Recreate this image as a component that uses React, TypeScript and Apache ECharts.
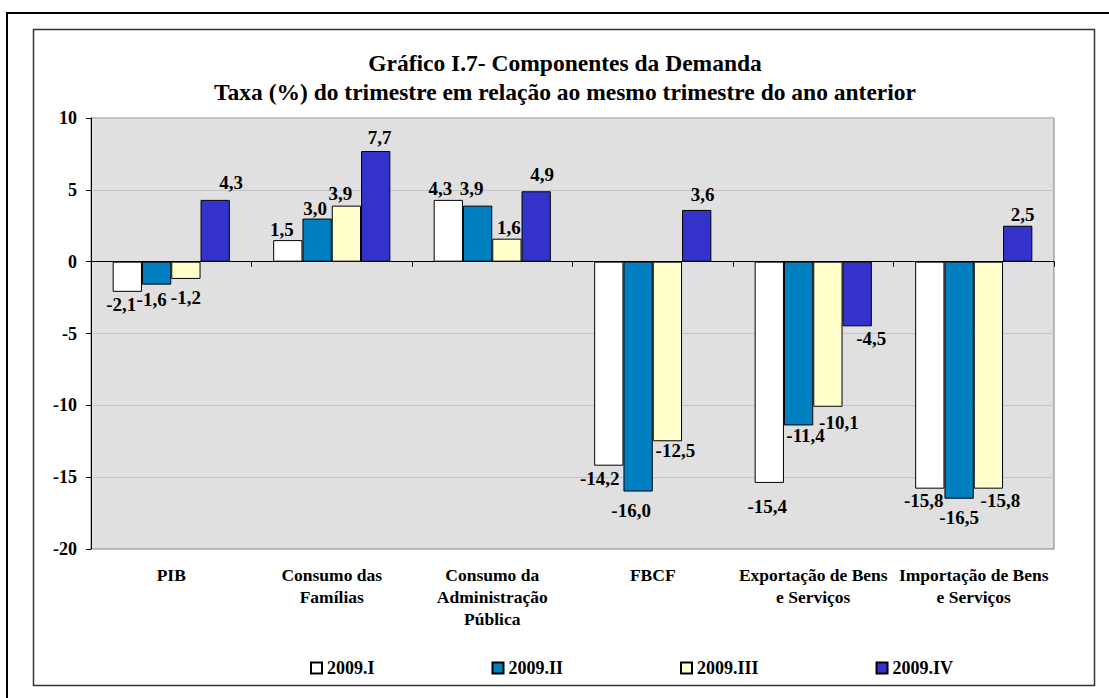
import React, { useEffect, useRef } from "react";
import * as echarts from "echarts";

const categories = [
  "PIB",
  "Consumo das\nFamílias",
  "Consumo da\nAdministração\nPública",
  "FBCF",
  "Exportação de Bens\ne Serviços",
  "Importação de Bens\ne Serviços",
];
const seriesNames = ["2009.I", "2009.II", "2009.III", "2009.IV"];
const q1 = [-2.1, 1.5, 4.3, -14.2, -15.4, -15.8];
const q2 = [-1.6, 3.0, 3.9, -16.0, -11.4, -16.5];
const q3 = [-1.2, 3.9, 1.6, -12.5, -10.1, -15.8];
const q4 = [4.3, 7.7, 4.9, 3.6, -4.5, 2.5];
const yTicks = [10, 5, 0, -5, -10, -15, -20];

// styling only: series colours and per-label nudges [dx, distance]
const seriesColors = ["#FFFFFF", "#0080C0", "#FFFFCC", "#3333CC"];
const labelNudges = [
  [[-6, 3.5], [-6, 1], [-8, 1.5], [-9, 3.5], [-2, 14.5], [-6, 2.5]],
  [[-5, 5.5], [-2, 0.5], [-6, 7.5], [-7, 9.5], [7, 0.5], [0, 9]],
  [[0, 9.5], [-6, 2.5], [2, 1.5], [8, 0], [11, 6], [12, 2.5]],
  [[16, 7.5], [4, 4], [6, 7], [6, 5.5], [14, 3], [5, 1.5]],
];

const FONT = "Liberation Serif";

export default function App() {
  const ref = useRef<HTMLDivElement>(null);
  useEffect(() => {
    document.body.style.margin = "0";
    const chart = echarts.init(ref.current!, null, { renderer: "svg" });
    const values = [q1, q2, q3, q4];
    const series = values.map((vals, i) => ({
      name: seriesNames[i],
      type: "bar",
      xAxisIndex: 0,
      barWidth: "18.25%",
      barGap: "0%",
      itemStyle: { color: seriesColors[i], borderColor: "#000", borderWidth: 1 },
      label: {
        show: true,
        fontFamily: FONT,
        fontWeight: "bold",
        fontSize: 19,
        lineHeight: 19,
        color: "#000",
        formatter: (p: any) => Number(p.value).toFixed(1).replace(".", ","),
      },
      data: vals.map((v, j) => ({
        value: v,
        label: {
          position: v < 0 ? "bottom" : "top",
          distance: labelNudges[i][j][1],
          offset: [labelNudges[i][j][0], 0],
        },
      })),
    }));
    chart.setOption({
      animation: false,
      backgroundColor: "#FFFFFF",
      title: {
        text: "Gráfico I.7- Componentes da Demanda\nTaxa (%) do trimestre em relação ao mesmo trimestre do ano anterior",
        left: 565,
        textAlign: "center",
        top: 48.5,
        padding: 0,
        textStyle: {
          fontFamily: FONT,
          fontWeight: "bold",
          fontSize: 23.5,
          lineHeight: 29,
          color: "#000",
        },
      },
      legend: {
        left: 310,
        top: 659,
        padding: 0,
        itemWidth: 11,
        itemHeight: 11,
        itemGap: 117,
        icon: "rect",
        data: seriesNames,
        textStyle: { fontFamily: FONT, fontWeight: "bold", fontSize: 18, color: "#000" },
      },
      graphic: [
        {
          type: "rect",
          shape: { x: 7, y: 13, width: 1110, height: 700 },
          style: { fill: "none", stroke: "#000", lineWidth: 2 },
          z: 100,
        },
        {
          type: "rect",
          shape: { x: 33.5, y: 29.5, width: 1061, height: 656 },
          style: { fill: "none", stroke: "#333", lineWidth: 1.5 },
          z: 100,
        },
      ],
      grid: {
        left: 91,
        right: 55,
        top: 118,
        bottom: 149,
        show: true,
        backgroundColor: "#E0E0E0",
        borderColor: "#808080",
        borderWidth: 1,
      },
      xAxis: [
        {
          type: "category",
          data: categories,
          position: "bottom",
          axisLine: { show: false, onZero: false },
          axisTick: { show: false },
          axisLabel: {
            interval: 0,
            margin: 15,
            fontFamily: FONT,
            fontWeight: "bold",
            fontSize: 17.5,
            lineHeight: 22,
            color: "#000",
          },
        },
        {
          type: "category",
          data: categories,
          position: "bottom",
          axisLine: { show: true, onZero: true, lineStyle: { color: "#000", width: 1 } },
          axisTick: { show: true, length: 5, lineStyle: { color: "#000" } },
          axisLabel: { show: false },
        },
      ],
      yAxis: {
        type: "value",
        min: -20,
        max: 10,
        interval: 5,
        axisLine: { show: true, lineStyle: { color: "#000" } },
        axisTick: { show: true, length: 5, lineStyle: { color: "#000" } },
        axisLabel: {
          fontFamily: FONT,
          fontWeight: "bold",
          fontSize: 18,
          color: "#000",
          margin: 14,
          formatter: (v: number) => (yTicks.includes(v) ? String(v) : ""),
        },
        splitLine: { show: true, lineStyle: { color: "#C4C4C4", width: 1 } },
      },
      series,
    });
    return () => chart.dispose();
  }, []);
  return <div ref={ref} style={{ width: 1109, height: 698 }} />;
}
